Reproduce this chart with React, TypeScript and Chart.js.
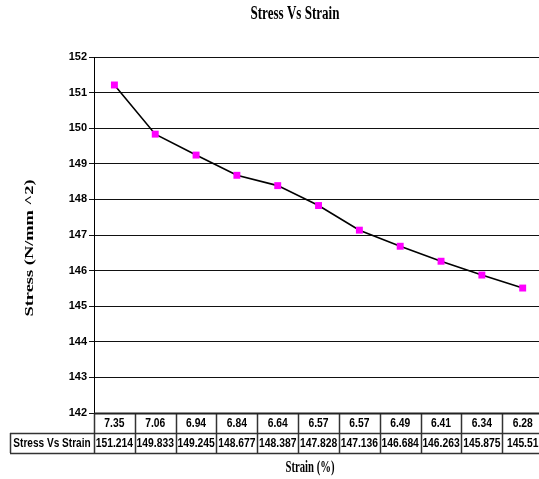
import React, { useEffect, useRef } from "react";
import { Chart, registerables } from "chart.js";

Chart.register(...registerables);

// Strain readings (%) used as categories along the horizontal axis
const strainLabels = ["7.35", "7.06", "6.94", "6.84", "6.64", "6.57", "6.57", "6.49", "6.41", "6.34", "6.28"];
// Stress values (N/mm^2) for each strain reading
const stressValues = [151.214, 149.833, 149.245, 148.677, 148.387, 147.828, 147.136, 146.684, 146.263, 145.875, 145.51];
// Vertical axis range
const yMin = 142;
const yMax = 152;
const yStep = 1;

const seriesName = "Stress Vs Strain";
const chartTitle = "Stress Vs Strain";
const xTitle = "Strain (%)";
const yTitle = "Stress (N/mm ^2)";

const SANS = "'Liberation Sans', Arial, Helvetica, sans-serif";
const SERIF = "'Liberation Serif', 'Times New Roman', Times, serif";

type Ctx = CanvasRenderingContext2D;

function drawScaledText(ctx: Ctx, text: string, x: number, y: number, font: string, sx: number, align: CanvasTextAlign) {
  ctx.save();
  ctx.font = font;
  ctx.fillStyle = "#000";
  ctx.textAlign = align;
  ctx.textBaseline = "middle";
  ctx.translate(x, y);
  ctx.scale(sx, 1);
  ctx.fillText(text, 0, 0);
  ctx.restore();
}

function drawFittedText(ctx: Ctx, text: string, cx: number, cy: number, font: string, width: number) {
  ctx.save();
  ctx.font = font;
  const natural = ctx.measureText(text).width;
  ctx.restore();
  drawScaledText(ctx, text, cx, cy, font, width / natural, "center");
}

const tablePlugin = {
  id: "dataTableAndTitles",
  afterDraw(chart: any) {
    const ctx: Ctx = chart.ctx;
    const area = chart.chartArea;
    const xs = chart.scales.x;
    const n = strainLabels.length;
    const colW = (area.right - area.left) / n;
    const rowH = 20;
    const top = area.bottom;
    const mid = top + rowH;
    const bottom = mid + rowH;
    const headLeft = 10;
    const cellFont = `bold 12px ${SANS}`;

    ctx.save();
    // cell text
    strainLabels.forEach((lab, i) => {
      const cx = xs.getPixelForValue(i);
      drawScaledText(ctx, lab, cx, top + rowH / 2 + 1, cellFont, 0.86, "center");
      drawScaledText(ctx, String(stressValues[i]), cx, mid + rowH / 2 + 1, cellFont, 0.86, "center");
    });
    drawScaledText(ctx, seriesName, (headLeft + area.left) / 2, mid + rowH / 2 + 1, cellFont, 0.84, "center");

    // grid of the table
    ctx.strokeStyle = "#333";
    ctx.lineWidth = 1.5;
    for (let i = 0; i <= n; i++) {
      const x = Math.round(area.left + i * colW) + 0.5;
      ctx.beginPath();
      ctx.moveTo(x, top);
      ctx.lineTo(x, bottom);
      ctx.stroke();
    }
    ctx.beginPath();
    ctx.moveTo(headLeft + 0.5, mid);
    ctx.lineTo(headLeft + 0.5, bottom);
    ctx.stroke();
    ctx.beginPath();
    ctx.moveTo(headLeft, mid + 0.5);
    ctx.lineTo(area.right, mid + 0.5);
    ctx.moveTo(headLeft, bottom + 0.5);
    ctx.lineTo(area.right, bottom + 0.5);
    ctx.stroke();
    ctx.strokeStyle = "#222";
    ctx.lineWidth = 2;
    ctx.beginPath();
    ctx.moveTo(area.left, top + 0.5);
    ctx.lineTo(area.right, top + 0.5);
    ctx.stroke();

    // titles
    drawFittedText(ctx, chartTitle, 295, 14, `bold 18px ${SERIF}`, 89);
    drawFittedText(ctx, xTitle, 310, 468, `bold 16px ${SERIF}`, 49);

    ctx.save();
    ctx.font = `bold 18px ${SERIF}`;
    ctx.fillStyle = "#000";
    ctx.textAlign = "center";
    ctx.textBaseline = "middle";
    const natural = ctx.measureText(yTitle).width;
    ctx.translate(30, 248);
    ctx.scale(0.68, 1);
    ctx.rotate(-Math.PI / 2);
    ctx.scale(137 / natural, 1);
    ctx.fillText(yTitle, 0, 0);
    ctx.restore();

    ctx.restore();
  },
};

export default function App() {
  const canvasRef = useRef<HTMLCanvasElement | null>(null);

  useEffect(() => {
    const canvas = canvasRef.current;
    if (!canvas) return;
    const chart = new Chart(canvas, {
      type: "line",
      data: {
        labels: strainLabels,
        datasets: [
          {
            label: seriesName,
            data: stressValues,
            borderColor: "#000",
            borderWidth: 1.6,
            tension: 0,
            pointStyle: "rect",
            pointRadius: 4.9,
            pointHoverRadius: 4.9,
            pointBackgroundColor: "#ff00ff",
            pointBorderColor: "#ff00ff",
            pointBorderWidth: 0,
          },
        ],
      },
      options: {
        responsive: false,
        animation: false,
        devicePixelRatio: 1,
        layout: { padding: { top: 57, bottom: 66, left: 0, right: 1 } },
        plugins: {
          legend: { display: false },
          title: { display: false },
          tooltip: { enabled: false },
        },
        scales: {
          x: {
            type: "category",
            offset: true,
            display: false,
          },
          y: {
            min: yMin,
            max: yMax,
            afterFit: (scale: any) => {
              scale.width = 94;
            },
            ticks: {
              stepSize: yStep,
              color: "#000",
              padding: 2,
              font: { family: SANS, size: 11, weight: "bold" },
            },
            grid: {
              color: "#111",
              lineWidth: 1,
              drawTicks: true,
              tickLength: 5,
            },
            border: { display: true, color: "#000", width: 1 },
          },
        },
      },
      plugins: [tablePlugin],
    } as any);
    return () => chart.destroy();
  }, []);

  return (
    <div style={{ position: "absolute", left: 0, top: 0, width: 539, height: 479, overflow: "hidden", background: "#fff" }}>
      <canvas ref={canvasRef} width={548} height={479} style={{ width: 548, height: 479, display: "block" }} />
    </div>
  );
}
